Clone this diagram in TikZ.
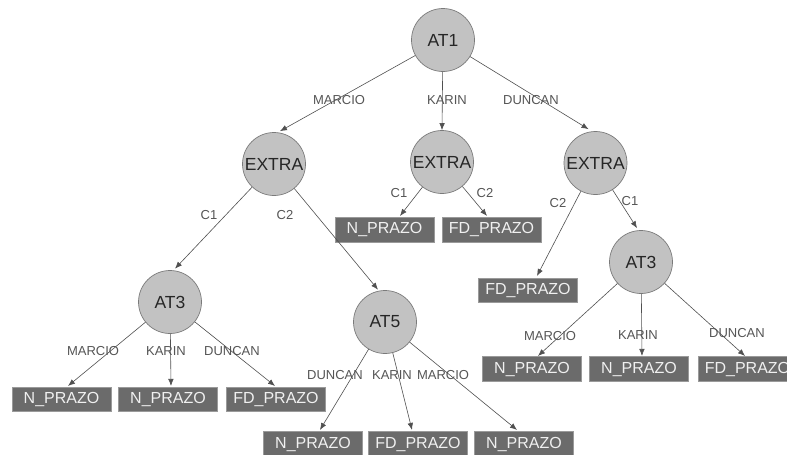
\documentclass[tikz,border=0pt]{standalone}
\usepackage{fontspec}
\setmainfont{Liberation Sans}
\usetikzlibrary{arrows.meta}
\definecolor{circfill}{HTML}{C2C2C2}
\definecolor{circline}{HTML}{7A7A7A}
\definecolor{boxfill}{HTML}{6B6B6B}
\definecolor{boxline}{HTML}{9A9A9A}
\definecolor{edgecol}{HTML}{505050}
\definecolor{labcol}{HTML}{555555}
\tikzset{
  attr/.style={circle, fill=circfill, draw=circline, line width=0.7pt,
    minimum size=63pt, inner sep=0pt, font=\fontsize{17.5}{20}\selectfont, text=black!85},
  leaf/.style={rectangle, fill=boxfill, draw=boxline, line width=0.6pt,
    minimum width=99pt, minimum height=24.5pt, inner sep=0pt,
    font=\fontsize{16}{18}\selectfont, text=white!94!black},
  elabel/.style={font=\fontsize{13}{15}\selectfont, text=labcol, inner sep=0pt},
  edge/.style={draw=edgecol, line width=0.6pt, -{Latex[length=7pt,width=5.5pt]}}
}
\begin{document}
\begin{tikzpicture}[x=1pt,y=-1pt]
\useasboundingbox (0,0) rectangle (787,455);
\fill[white] (0,0) rectangle (787,455);
\clip (0,0) rectangle (787,455);

% decision nodes
\node[attr] (at1)  at (443,40)    {AT1};
\node[attr] (exL)  at (274,164)   {EXTRA};
\node[attr] (exM)  at (442,162)   {EXTRA};
\node[attr] (exR)  at (595.5,163) {EXTRA};
\node[attr] (at3L) at (170,302)   {AT3};
\node[attr] (at5)  at (385,322)   {AT5};
\node[attr] (at3R) at (641,262)   {AT3};

% leaves
\node[leaf] (mN1) at (384.5,230) {N\_PRAZO};
\node[leaf] (mF1) at (491.5,230) {FD\_PRAZO};
\node[leaf] (lN1) at (61.5,399.5) {N\_PRAZO};
\node[leaf] (lN2) at (168,399.5)  {N\_PRAZO};
\node[leaf] (lF1) at (276,399.5)  {FD\_PRAZO};
\node[leaf] (aN1) at (313,444)    {N\_PRAZO};
\node[leaf] (aF1) at (418,444)    {FD\_PRAZO};
\node[leaf] (aN2) at (524,444)    {N\_PRAZO};
\node[leaf] (rF0) at (528,290.5)  {FD\_PRAZO};
\node[leaf] (rN1) at (532,369)    {N\_PRAZO};
\node[leaf] (rN2) at (639,369)    {N\_PRAZO};
\node[leaf] (rF1) at (747.5,369)  {FD\_PRAZO};

% branch labels
\node[elabel] (l1) at (339,100) {MARCIO};
\node[elabel] (l2) at (447,100) {KARIN};
\node[elabel] (l3) at (531,100) {DUNCAN};
\node[elabel] (l4) at (399,193) {C1};
\node[elabel] (l5) at (485,193) {C2};
\node[elabel] (l6) at (209,215) {C1};
\node[elabel] (l7) at (285,215) {C2};
\node[elabel] (l8) at (558,203) {C2};
\node[elabel] (l9) at (630,201) {C1};
\node[elabel] (l10) at (93,351)  {MARCIO};
\node[elabel] (l11) at (166,351) {KARIN};
\node[elabel] (l12) at (232,351) {DUNCAN};
\node[elabel] (l13) at (335,375) {DUNCAN};
\node[elabel] (l14) at (392,375) {KARIN};
\node[elabel] (l15) at (443,375) {MARCIO};
\node[elabel] (l16) at (550,336) {MARCIO};
\node[elabel] (l17) at (638,335) {KARIN};
\node[elabel] (l18) at (737,333) {DUNCAN};

% branches
\draw[edge] (at1) -- ([xshift=6pt,yshift=1pt]exL.north);
\draw[edge] (at1) -- (exM.north);
\draw[edge] (at1) -- ([xshift=-7pt,yshift=2pt]exR.north);
\draw[edge] (exM) -- ([xshift=15.5pt,yshift=1.5pt]mN1.north);
\draw[edge] (exM) -- ([xshift=-4.5pt,yshift=1.5pt]mF1.north);
\draw[edge] (exL) -- ([xshift=5pt,yshift=1.5pt]at3L.north);
\draw[edge] (exL) -- ([xshift=-7pt,yshift=0.5pt]at5.north);
\draw[edge] (exR) -- ([xshift=9pt,yshift=2pt]rF0.north);
\draw[edge] (exR) -- ([xshift=-4pt,yshift=2pt]at3R.north);
\draw[edge] (at3L) -- ([xshift=6.5pt,yshift=1pt]lN1.north);
\draw[edge] (at3L) -- ([xshift=3pt,yshift=1pt]lN2.north);
\draw[edge] (at3L) -- ([xshift=-1pt,yshift=1pt]lF1.north);
\draw[edge] (at5) -- ([xshift=7pt,yshift=1.5pt]aN1.north);
\draw[edge] (at5) -- ([xshift=-6pt,yshift=1.5pt]aF1.north);
\draw[edge] (at5) -- ([xshift=-7pt,yshift=1.5pt]aN2.north);
\draw[edge] (at3R) -- ([xshift=6pt,yshift=0.5pt]rN1.north);
\draw[edge] (at3R) -- ([xshift=3pt,yshift=0.5pt]rN2.north);
\draw[edge] (at3R) -- ([xshift=-2.5pt,yshift=0.5pt]rF1.north);
\end{tikzpicture}
\end{document}
